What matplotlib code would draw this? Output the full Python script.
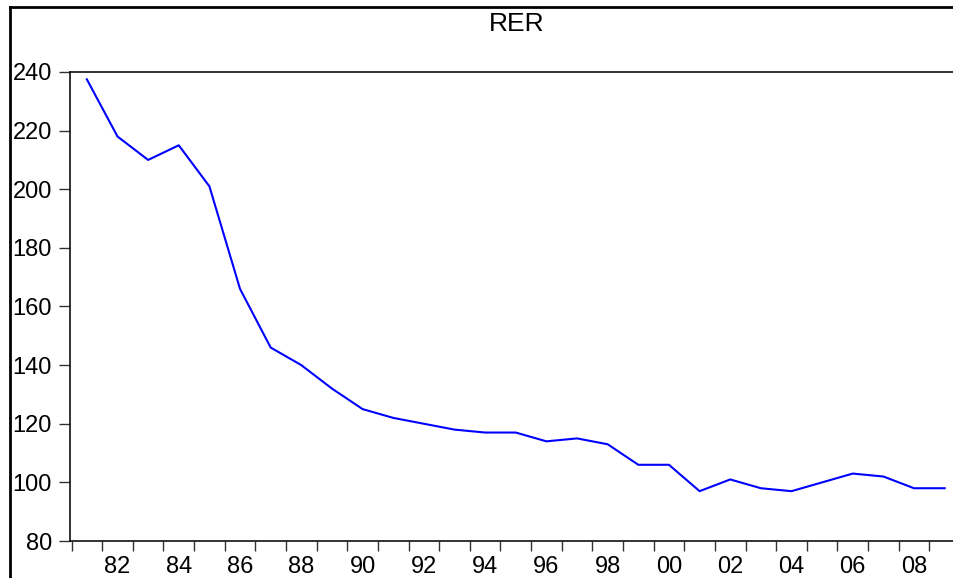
import matplotlib
matplotlib.use("Agg")
import matplotlib.pyplot as plt
from matplotlib.lines import Line2D

years = list(range(1981, 2010))
rer = [237.5, 218, 210, 215, 201, 166, 146, 140, 132, 125,
       122, 120, 118, 117, 117, 114, 115, 113, 106, 106,
       97, 101, 98, 97, 100, 103, 102, 98, 98]
label_years = list(range(1982, 2010, 2))
year_labels = ["82", "84", "86", "88", "90", "92", "94", "96", "98",
               "00", "02", "04", "06", "08"]
y_ticks = [80, 100, 120, 140, 160, 180, 200, 220, 240]

plt.rcParams['font.family'] = ['Liberation Sans', 'DejaVu Sans']

W, H = 954, 578
fig = plt.figure(figsize=(W / 100, H / 100), dpi=100)
ax = fig.add_axes([70 / W, 37 / H, 890 / W, 469 / H])

ax.plot(years, rer, color='#0000ff', lw=1.5)

ax.set_xlim(1980.45, 2009.5)
ax.set_ylim(80, 240)

# year boundary ticks, labels centred on the year
ax.set_xticks([y - 0.5 for y in years] + [2009.5])
ax.set_xticklabels([])
ax.set_xticks(label_years, minor=True)
ax.set_xticklabels(year_labels, minor=True, fontsize=17)
ax.tick_params(axis='x', which='major', direction='out', length=7, width=1, color='#333333')
ax.tick_params(axis='x', which='minor', length=0, pad=11)

ax.set_yticks(y_ticks)
ax.set_yticklabels([str(v) for v in y_ticks], fontsize=17)
ax.tick_params(axis='y', direction='out', length=8, width=1, pad=5, color='#333333')

for s in ['left', 'top', 'bottom']:
    ax.spines[s].set_linewidth(1.2)
    ax.spines[s].set_color('#111111')
ax.spines['right'].set_visible(False)

fig.text(517 / W, 1 - 24 / H, "RER", ha='center', va='center', fontsize=19)

# outer frame (partially visible)
fig.add_artist(Line2D([10 / W, 10 / W], [0, 1 - 7 / H], transform=fig.transFigure,
                      color='black', lw=2))
fig.add_artist(Line2D([10 / W, 1], [1 - 7 / H, 1 - 7 / H], transform=fig.transFigure,
                      color='black', lw=2))

fig.savefig("out.png", dpi=100)
